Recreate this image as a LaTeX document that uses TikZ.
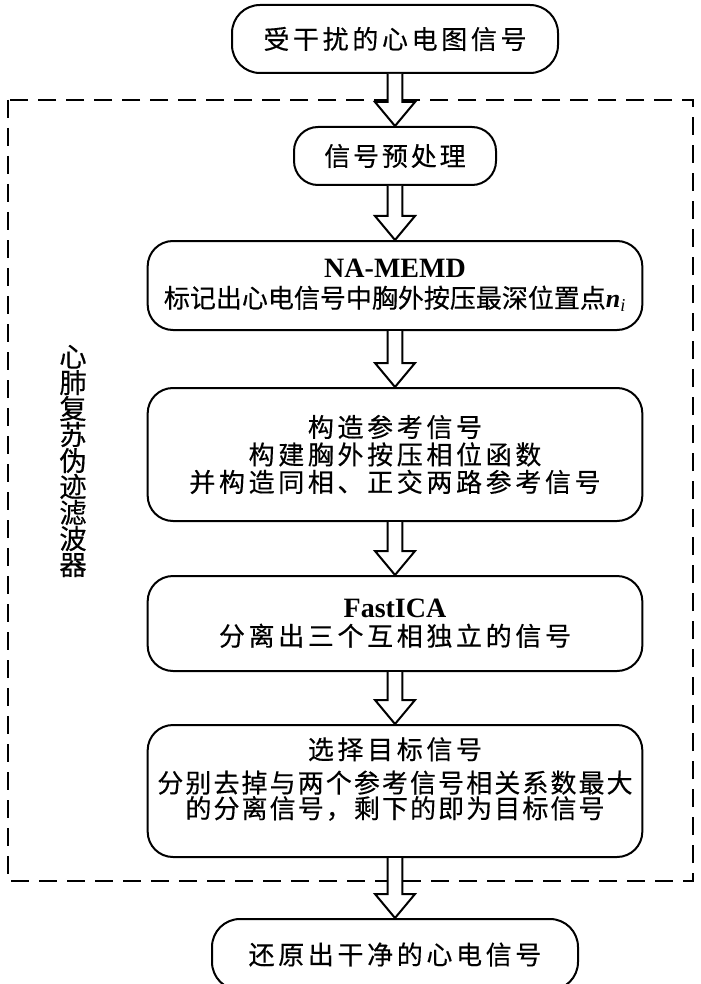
\documentclass[tikz,border=0pt]{standalone}
\usepackage{fontspec}
\setmainfont{Liberation Serif}
\newfontfamily\cjk[FakeBold=0.4]{Noto Sans CJK SC}
\usetikzlibrary{positioning, calc}

\newcommand{\cjkfont}[3]{\cjk\fontsize{#1}{#2}\selectfont\addfontfeature{LetterSpace=#3}}
\newcommand{\latinbf}[1]{{\rmfamily\bfseries\fontsize{21pt}{22pt}\selectfont #1}}
\newcommand{\hollowarrow}[2]{%
    \draw[hollow] ($(#1.south)+(-5.6pt,0)$) -- ($(#2.north)+(-5.6pt,18pt)$)
        -- ($(#2.north)+(-15pt,18pt)$) -- (#2.north) -- ($(#2.north)+(15pt,18pt)$)
        -- ($(#2.north)+(5.6pt,18pt)$) -- ($(#1.south)+(5.6pt,0)$);}

\tikzset{
    terminal/.style={rectangle, draw, line width=1.5pt, rounded corners=21pt, align=center, inner sep=2pt, font={\cjkfont{19.5pt}{21pt}{14}}},
    process/.style={rectangle, draw, line width=1.5pt, rounded corners=19pt, align=center, inner sep=2pt, minimum width=371pt},
    hollow/.style={draw, line width=1.5pt, fill=white, line join=miter},
    frame/.style={draw, line width=2.2pt, dash pattern=on 13.5pt off 7.5pt},
    vlabel/.style={align=center, inner sep=0pt, font={\cjkfont{20.5pt}{19.5pt}{0}}}
}

\begin{document}
\begin{tikzpicture}[node distance=39pt]
    \useasboundingbox (0,0) rectangle (525pt,-738pt);

    % dashed frame of the filter
    \draw[frame] (6pt,-75pt) rectangle (519.75pt,-660.75pt);
    \node[vlabel] (filter_label) at (54.75pt,-345.75pt) {心\\肺\\复\\苏\\伪\\迹\\滤\\波\\器};

    \node[terminal, minimum width=244.5pt, minimum height=51pt] (ecg_in) at (296.25pt,-29.25pt) {受干扰的心电图信号};
    \node[terminal, minimum width=151.5pt, minimum height=43.5pt, rounded corners=18pt, font={\cjkfont{19.5pt}{21pt}{11}}] (preproc) [below=39pt of ecg_in] {信号预处理};
    \node[process, minimum height=66.75pt, font={\cjkfont{19.5pt}{22.5pt}{14}}] (namemd) [below=40.5pt of preproc]
        {\latinbf{NA-MEMD}\\{\addfontfeature{LetterSpace=0}标记出心电信号中胸外按压最深位置点}{\rmfamily\bfseries\itshape n}\textsubscript{\rmfamily\itshape i}};
    \node[process, minimum height=99.75pt, font={\cjkfont{19.5pt}{20.6pt}{14}}] (reference) [below=42pt of namemd]
        {构造参考信号\\构建胸外按压相位函数\\并构造同相、正交两路参考信号};
    \node[process, minimum height=71.25pt, font={\cjkfont{19.5pt}{21pt}{14}}] (fastica) [below=39.75pt of reference]
        {\latinbf{FastICA}\\分离出三个互相独立的信号};
    \node[process, minimum height=99pt, font={\cjkfont{19.5pt}{18pt}{8}}] (target) [below=39pt of fastica]
        {{\addfontfeature{LetterSpace=14}选择目标信号}\\[6pt]分别去掉与两个参考信号相关系数最大\\的分离信号，剩下的即为目标信号\\[2pt]\mbox{}};
    \node[terminal, minimum width=274.5pt, minimum height=53.25pt] (ecg_out) [below=45pt of target] {还原出干净的心电信号};

    \hollowarrow{ecg_in}{preproc}
    \hollowarrow{preproc}{namemd}
    \hollowarrow{namemd}{reference}
    \hollowarrow{reference}{fastica}
    \hollowarrow{fastica}{target}
    \hollowarrow{target}{ecg_out}
\end{tikzpicture}
\end{document}
